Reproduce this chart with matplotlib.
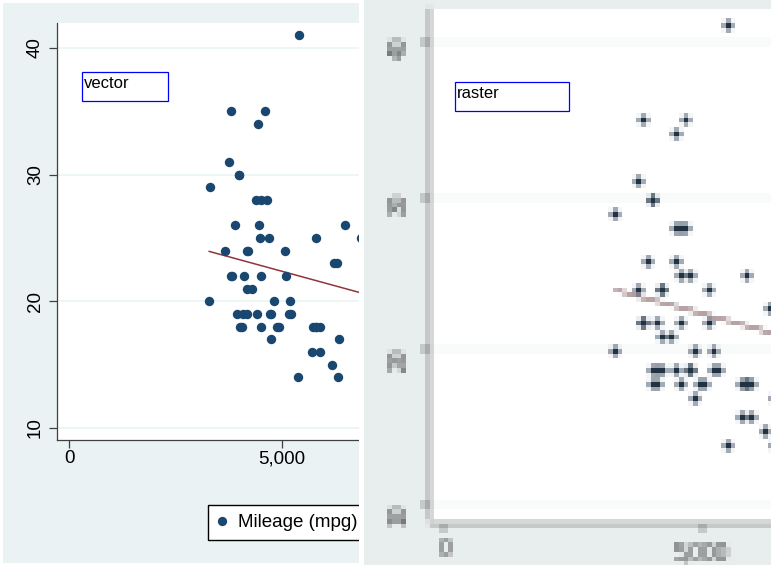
import numpy as np
import matplotlib
matplotlib.use("Agg")
import matplotlib.pyplot as plt
from matplotlib.figure import Figure
from matplotlib.backends.backend_agg import FigureCanvasAgg
from matplotlib.lines import Line2D
from matplotlib.patches import Rectangle

plt.rcParams['font.family'] = ['Liberation Sans', 'DejaVu Sans']

# 1978 automobile data: price (US$) and mileage (mpg)
price = [4099, 4749, 3799, 4816, 7827, 5788, 4453, 5189, 10372, 4082,
         11385, 14500, 15906, 3299, 5705, 4504, 5104, 3667, 3955, 3984,
         4010, 5886, 6342, 4389, 4187, 11497, 13594, 13466, 3829, 5379,
         6165, 4516, 6303, 3291, 8814, 5172, 4733, 4890, 4181, 4195,
         10371, 4647, 4425, 4482, 6486, 4060, 5798, 4934, 5222, 4723,
         4424, 4172, 9690, 6295, 9735, 6229, 4589, 5079, 8129, 4296,
         5799, 4499, 3995, 12990, 3895, 3798, 5899, 3748, 5719, 7140,
         5397, 4697, 6850, 11995]
mpg = [22, 17, 22, 20, 15, 18, 26, 20, 16, 19,
       14, 14, 21, 29, 16, 22, 22, 24, 19, 30,
       18, 16, 17, 28, 21, 12, 12, 14, 22, 14,
       15, 18, 14, 20, 21, 19, 19, 18, 19, 24,
       16, 28, 34, 25, 26, 18, 18, 18, 19, 19,
       19, 24, 17, 23, 25, 23, 35, 24, 21, 21,
       25, 28, 30, 14, 26, 35, 18, 31, 18, 23,
       41, 25, 25, 17]

yticks = [10, 20, 30, 40]
xticks = [0, 5000, 10000, 15000]
xticklabels = ["0", "5,000", "10,000", "15,000"]
series_labels = ["Mileage (mpg)", "Fitted values"]

W, H = 771, 565
NAVY = "#1a476f"
MAROON = "#90353b"
BG = "#eaf2f3"
AXC = "#404040"


def fx(px):
    return px / W


def fy(py):
    return 1 - py / H


def draw_graph(fig, msize=46, labelcolor="black"):
    # graph region behind the plot region
    fig.patch.set_facecolor("white")
    fig.patches.append(Rectangle((fx(3), fy(563)), fx(765), 560 / H,
                                 transform=fig.transFigure, facecolor=BG,
                                 edgecolor="none", zorder=-5))
    ax = fig.add_axes([fx(57), fy(440), fx(757 - 57), (440 - 23) / H])
    ax.set_facecolor("white")

    ax.scatter(price, mpg, s=msize, color=NAVY, linewidths=0, zorder=3)
    b, a = np.polyfit(price, mpg, 1)
    xs = np.array([min(price), max(price)])
    ax.plot(xs, a + b * xs, color=MAROON, lw=1.1, zorder=2)

    ax.set_xlim(-282, 16150)
    ax.set_ylim(9.05, 41.97)
    ax.set_yticks(yticks)
    ax.set_yticklabels([str(v) for v in yticks], rotation=90, va="center")
    ax.set_xticks(xticks)
    ax.set_xticklabels(xticklabels)
    ax.grid(axis="y", color=BG, lw=1.1)
    ax.set_axisbelow(True)
    for side in ["top", "right"]:
        ax.spines[side].set_visible(False)
    for side in ["left", "bottom"]:
        ax.spines[side].set_color(AXC)
        ax.spines[side].set_linewidth(0.9)
    ax.tick_params(axis="both", direction="out", length=5.8, width=0.9,
                   color=AXC, labelsize=13.5, labelcolor=labelcolor)
    ax.tick_params(axis="y", pad=3.5)
    ax.tick_params(axis="x", pad=1.5)

    handles = [Line2D([], [], ls="none", marker="o", ms=6.7, color=NAVY, mew=0),
               Line2D([], [], color=MAROON, lw=1.1)]
    fig.legend(handles, series_labels, loc="center left",
               bbox_to_anchor=(fx(208), fy(522.5)), ncol=2, fontsize=13.5,
               frameon=True, fancybox=False, edgecolor="black",
               facecolor="white", framealpha=1, borderpad=0.5,
               handlelength=0.49, handletextpad=0.61, columnspacing=1.5,
               borderaxespad=0)
    return ax


# full-resolution graph
fig = plt.figure(figsize=(W / 100, H / 100), dpi=100)
draw_graph(fig)

ov = fig.add_axes([0, 0, 1, 1], zorder=5)
ov.set_xlim(0, W)
ov.set_ylim(H, 0)
ov.axis("off")
ov.add_patch(Rectangle((82, 72), 86, 29, facecolor="white",
                       edgecolor="#0000ff", lw=0.9))
ov.text(83.5, 88.3, "vector", fontsize=12, va="baseline", ha="left")

# low-resolution copy of the same graph, enlarged on the right
small = Figure(figsize=(W / 100, H / 100), dpi=26)
FigureCanvasAgg(small)
draw_graph(small, msize=26, labelcolor="#606060")
small.canvas.draw()
img = np.asarray(small.canvas.buffer_rgba())[:, :, :3] / 255.0
# bitmap copy loses most of its colour: pull it towards grey and darken
grey = img.mean(axis=2, keepdims=True)
img = 0.45 * img + 0.55 * grey
img = np.clip(img ** 1.25, 0, 1)

scale = 1.22
x0, y0 = 359, -14.6
rax = fig.add_axes([fx(x0), 0, fx(W - x0), 1], zorder=10)
rax.imshow(img, extent=(x0, x0 + scale * W, y0 + scale * H, y0),
           interpolation="nearest", aspect="auto")
rax.set_xlim(x0, W)
rax.set_ylim(H, 0)
rax.axis("off")
rax.add_patch(Rectangle((455, 82), 114, 29, facecolor="white",
                        edgecolor="#0000ff", lw=0.9, zorder=5))
rax.text(456.5, 98.3, "raster", fontsize=12, va="baseline", ha="left",
         zorder=6)

fig.savefig("out.png", dpi=100)
